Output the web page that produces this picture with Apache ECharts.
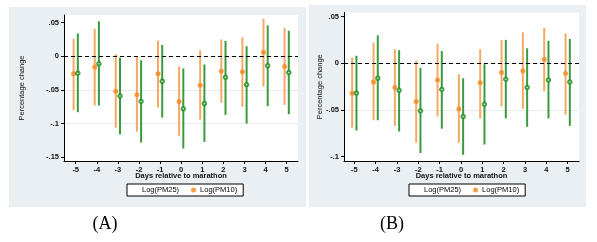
<!DOCTYPE html>
<html>
<head>
<meta charset="utf-8">
<script src="https://cdn.jsdelivr.net/npm/echarts@6/dist/echarts.min.js"></script>
<style>
html,body{margin:0;padding:0;background:#fff;}
#c{width:597px;height:242px;}
</style>
</head>
<body>
<div id="c"></div>
<script>
// ---- data ----
const days = [-5, -4, -3, -2, -1, 0, 1, 2, 3, 4, 5];
const xTickLabels = ['-5', '-4', '-3', '-2', '-1', '0', '1', '2', '3', '4', '5'];

// Panel A
const pm25A    = [-0.025, -0.011, -0.059, -0.067, -0.037, -0.078, -0.070, -0.031, -0.042, -0.014, -0.024];
const pm25A_lo = [-0.083, -0.073, -0.116, -0.128, -0.091, -0.137, -0.127, -0.087, -0.100, -0.074, -0.086];
const pm25A_hi = [ 0.034,  0.052, -0.002, -0.006,  0.017, -0.018, -0.012,  0.023,  0.015,  0.046,  0.038];
const pm10A    = [-0.026, -0.016, -0.052, -0.057, -0.026, -0.067, -0.043, -0.022, -0.023,  0.006, -0.015];
const pm10A_lo = [-0.080, -0.073, -0.106, -0.112, -0.076, -0.118, -0.094, -0.069, -0.075, -0.045, -0.072];
const pm10A_hi = [ 0.026,  0.041,  0.003,  0.000,  0.023, -0.015,  0.009,  0.025,  0.028,  0.056,  0.042];
const yTicksA = [-0.15, -0.1, -0.05, 0, 0.05];
const yTickLabelsA = ['-.15', '-.1', '-.05', '0', '.05'];

// Panel B
const pm25B    = [-0.032, -0.016, -0.029, -0.051, -0.028, -0.057, -0.044, -0.017, -0.026, -0.018, -0.020];
const pm25B_lo = [-0.072, -0.061, -0.073, -0.096, -0.070, -0.098, -0.087, -0.059, -0.068, -0.059, -0.067];
const pm25B_hi = [ 0.008,  0.030,  0.014, -0.005,  0.013, -0.016, -0.001,  0.025,  0.016,  0.024,  0.026];
const pm10B    = [-0.032, -0.020, -0.026, -0.041, -0.018, -0.049, -0.021, -0.010, -0.008,  0.004, -0.011];
const pm10B_lo = [-0.069, -0.061, -0.067, -0.085, -0.057, -0.085, -0.059, -0.046, -0.049, -0.030, -0.055];
const pm10B_hi = [ 0.006,  0.022,  0.015,  0.003,  0.021, -0.012,  0.015,  0.025,  0.033,  0.038,  0.032];
const yTicksB = [-0.1, -0.05, 0, 0.05];
const yTickLabelsB = ['-.1', '-.05', '0', '.05'];

const seriesNames = ['Log(PM25)', 'Log(PM10)'];
const panelLabels = ['(A)', '(B)'];
const xTitle = 'Days relative to marathon';
const yTitle = 'Percentage change';

// ---- styling ----
const FONT = '"Liberation Sans", Arial, sans-serif';
const GREEN_PT = '#1b8a1f';
const GREEN_CI = '#3a9b3e';
const ORANGE_PT = '#f5861f';
const ORANGE_CI = '#f7a862';
const OFF25 = 0.1, OFF10 = -0.1;

function ciData(lo, hi, off) {
  return days.map((d, i) => [d + off, lo[i], hi[i]]);
}
function ptData(v, off) {
  return days.map((d, i) => [d + off, v[i]]);
}
function ciSeries(name, lo, hi, off, color, idx) {
  return {
    type: 'custom', name: name, xAxisIndex: idx, yAxisIndex: idx,
    data: ciData(lo, hi, off),
    encode: { x: 0, y: [1, 2] },
    silent: true, z: 2,
    renderItem: function (params, api) {
      const a = api.coord([api.value(0), api.value(1)]);
      const b = api.coord([api.value(0), api.value(2)]);
      return { type: 'line', shape: { x1: a[0], y1: a[1], x2: b[0], y2: b[1] },
               style: { stroke: color, lineWidth: 2 } };
    }
  };
}
function makeX(idx, min, max) {
  return {
    type: 'value', gridIndex: idx, min: min, max: max,
    name: xTitle, nameLocation: 'middle', nameGap: 11, nameMoveOverlap: false,
    nameTextStyle: { fontFamily: FONT, fontSize: 7.5, color: '#111', fontWeight: 'bold' },
    axisLine: { show: true, onZero: false, lineStyle: { color: '#000', width: 1 } },
    axisTick: { show: true, length: 3, customValues: days, lineStyle: { color: '#000' } },
    axisLabel: { customValues: days, margin: 5, fontFamily: FONT, fontSize: 7.5, fontWeight: 'bold', color: '#111',
                 formatter: v => xTickLabels[days.indexOf(Math.round(v))] },
    splitLine: { show: false }
  };
}
function makeY(idx, min, max, ticks, labels, gap, split) {
  return {
    type: 'value', gridIndex: idx, min: min, max: max, splitNumber: split,
    name: yTitle, nameLocation: 'middle', nameGap: gap, nameMoveOverlap: false,
    nameTextStyle: { fontFamily: FONT, fontSize: 7.5, color: '#111' },
    axisLine: { show: true, onZero: false, lineStyle: { color: '#000', width: 1 } },
    axisTick: { show: true, length: 3, customValues: ticks, lineStyle: { color: '#000' } },
    axisLabel: { customValues: ticks, margin: 5, fontFamily: FONT, fontSize: 7.5, fontWeight: 'bold', color: '#111',
                 formatter: v => { let k = ticks.findIndex(t => Math.abs(t - v) < 1e-6); return k >= 0 ? labels[k] : ''; } },
    splitLine: { show: true, showMinLine: false, showMaxLine: false, lineStyle: { color: '#e6edf0', width: 1 } }
  };
}
const zeroLine = {
  silent: true, symbol: 'none', label: { show: false },
  lineStyle: { color: '#000', type: [4, 3], width: 1 },
  data: [{ yAxis: 0 }]
};
function ptSeries(name, v, off, idx, isGreen, withZero) {
  const s = {
    type: 'scatter', name: name, xAxisIndex: idx, yAxisIndex: idx, z: 4,
    data: ptData(v, off),
    symbol: isGreen ? 'emptyCircle' : 'circle',
    symbolSize: isGreen ? 3.5 : 5,
    itemStyle: isGreen ? { color: GREEN_PT, borderColor: GREEN_PT, borderWidth: 1 } : { color: ORANGE_PT },
    emphasis: { disabled: true }
  };
  if (withZero) s.markLine = zeroLine;
  return s;
}
function makeLegend(left) {
  return {
    left: left, top: 184, orient: 'horizontal',
    backgroundColor: '#fff', borderColor: '#000', borderWidth: 1,
    padding: [2, 6, 2, 5], itemGap: 12, itemWidth: 5, itemHeight: 5,
    textStyle: { fontFamily: FONT, fontSize: 7.5, color: '#000', padding: [0, 0, 0, -1] },
    selectedMode: false,
    data: [{ name: seriesNames[0], icon: 'emptyCircle', itemStyle: { color: '#fff', borderColor: GREEN_PT, borderWidth: 1 } },
           { name: seriesNames[1], icon: 'circle', itemStyle: { color: ORANGE_PT } }]
  };
}

const option = {
  animation: false,
  backgroundColor: '#fff',
  graphic: [
    { type: 'rect', z: -10, shape: { x: 9, y: 7, width: 297, height: 200 }, style: { fill: '#e9eff2' } },
    { type: 'rect', z: -10, shape: { x: 309, y: 5, width: 277, height: 202 }, style: { fill: '#e9eff2' } },
    { type: 'text', x: 105, y: 224, style: { text: panelLabels[0], font: '18px "Liberation Serif", "Times New Roman", serif', fill: '#000', textAlign: 'center', textVerticalAlign: 'middle' } },
    { type: 'text', x: 392, y: 224, style: { text: panelLabels[1], font: '18px "Liberation Serif", "Times New Roman", serif', fill: '#000', textAlign: 'center', textVerticalAlign: 'middle' } }
  ],
  grid: [
    { left: 64, top: 15, width: 234, height: 146, show: true, backgroundColor: '#fff', borderWidth: 0 },
    { left: 344, top: 12.5, width: 235, height: 148.5, show: true, backgroundColor: '#fff', borderWidth: 0 }
  ],
  xAxis: [makeX(0, -5.555, 5.536), makeX(1, -5.483, 5.53)],
  yAxis: [makeY(0, -0.1555, 0.0614, yTicksA, yTickLabelsA, 38, 4),
          makeY(1, -0.1046, 0.0543, yTicksB, yTickLabelsB, 20, 3)],
  legend: [makeLegend(127), makeLegend(409)],
  series: [
    ciSeries('ci10A', pm10A_lo, pm10A_hi, OFF10, ORANGE_CI, 0),
    ciSeries('ci25A', pm25A_lo, pm25A_hi, OFF25, GREEN_CI, 0),
    ptSeries(seriesNames[1], pm10A, OFF10, 0, false, true),
    ptSeries(seriesNames[0], pm25A, OFF25, 0, true, false),
    ciSeries('ci10B', pm10B_lo, pm10B_hi, OFF10, ORANGE_CI, 1),
    ciSeries('ci25B', pm25B_lo, pm25B_hi, OFF25, GREEN_CI, 1),
    ptSeries(seriesNames[1], pm10B, OFF10, 1, false, true),
    ptSeries(seriesNames[0], pm25B, OFF25, 1, true, false)
  ]
};
const chart = echarts.init(document.getElementById('c'), null, { renderer: 'canvas' });
chart.setOption(option);
</script>
</body>
</html>
